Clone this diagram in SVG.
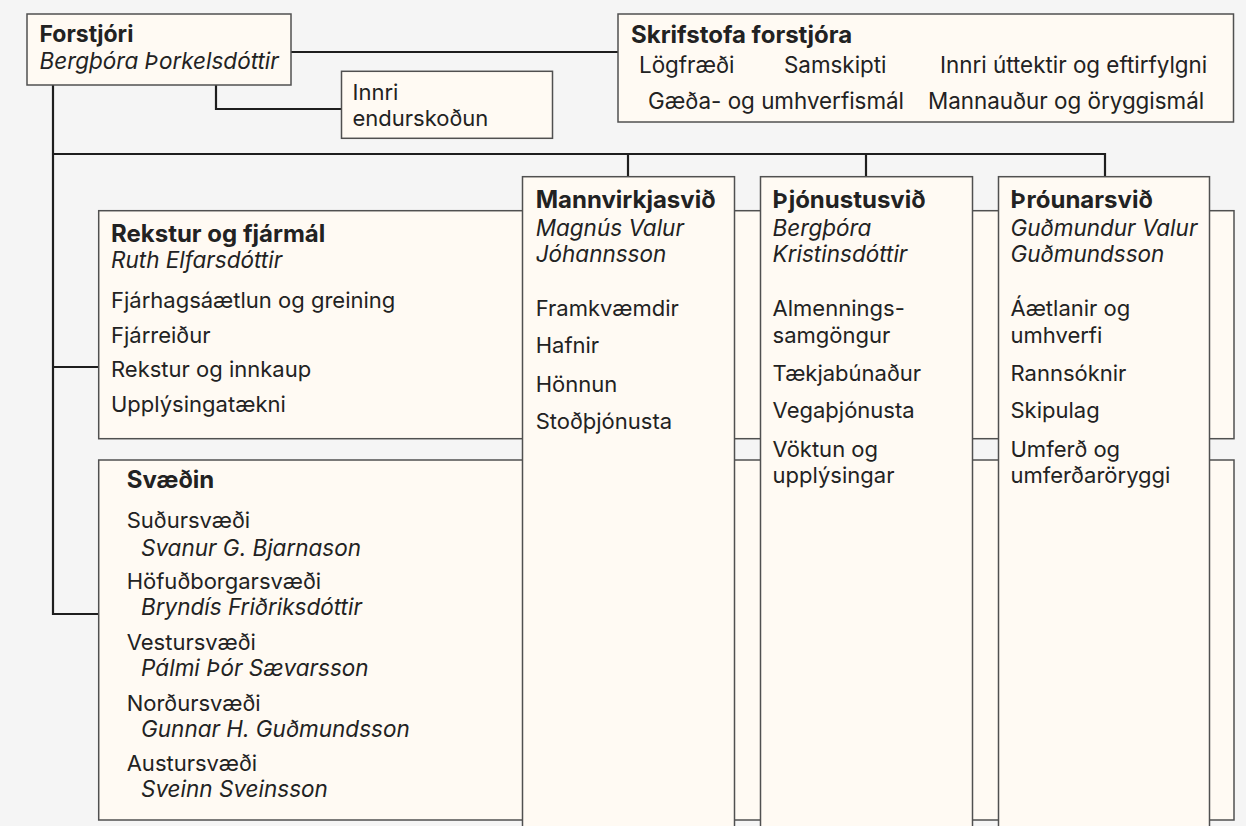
<svg xmlns="http://www.w3.org/2000/svg" width="1246" height="826" viewBox="0 0 1246 826">
<style>
.bg{fill:#f5f5f5}
.box{fill:#fffaf3;stroke:#505050;stroke-width:1.5}
.con{fill:none;stroke:#1e1e1e;stroke-width:2.2}
text{font-family:Inter,"Open Sans","Liberation Sans",sans-serif;fill:#222;font-size:22px}
.b{font-weight:700;font-size:24px}
.i{font-style:italic;font-size:22.5px}
.s{font-size:22.4px}
</style>
<rect class="bg" x="0" y="0" width="1246" height="826"/>
<g id="connectors">
<path class="con" d="M291,52 H618"/>
<path class="con" d="M216,85 V109 H342"/>
<path class="con" d="M53,85 V614 H99"/>
<path class="con" d="M53,367 H99"/>
<path class="con" d="M53,154 H1105 V177"/>
<path class="con" d="M628,154 V177"/>
<path class="con" d="M866,154 V177"/>
</g>
<g id="forstjori">
<rect class="box" x="27" y="14" width="264" height="71"/>
<text class="b" x="39.5" y="41.5" style="font-size:23px">Forstjóri</text>
<text class="i" x="39.5" y="69">Bergþóra Þorkelsdóttir</text>
</g>
<g id="skrifstofa">
<rect class="box" x="618" y="14" width="615.5" height="108"/>
<text class="b" x="631" y="42.7">Skrifstofa forstjóra</text>
<text class="s" x="639" y="73.3">Lögfræði</text>
<text class="s" x="784" y="73.3">Samskipti</text>
<text class="s" x="940" y="73.3">Innri úttektir og eftirfylgni</text>
<text class="s" x="648" y="109.3">Gæða- og umhverfismál</text>
<text class="s" x="928" y="109.3">Mannauður og öryggismál</text>
</g>
<g id="innri">
<rect class="box" x="341.5" y="71.3" width="211" height="67"/>
<text x="352.5" y="100">Innri</text>
<text x="352.5" y="126">endurskoðun</text>
</g>
<g id="rekstur">
<rect class="box" x="98.7" y="210.7" width="1135.3" height="228"/>
<text class="b" x="111" y="241.7">Rekstur og fjármál</text>
<text class="i" x="111" y="268.3">Ruth Elfarsdóttir</text>
<text x="111" y="308.3">Fjárhagsáætlun og greining</text>
<text x="111" y="342.7">Fjárreiður</text>
<text x="111" y="377.3">Rekstur og innkaup</text>
<text x="111" y="411.7">Upplýsingatækni</text>
</g>
<g id="svaedin">
<rect class="box" x="98.7" y="460" width="1135.3" height="360"/>
<text class="b" x="126.7" y="488.3">Svæðin</text>
<text x="126.7" y="528.3">Suðursvæði</text>
<text class="i" x="141" y="555.7">Svanur G. Bjarnason</text>
<text x="126.7" y="589">Höfuðborgarsvæði</text>
<text class="i" x="141" y="615">Bryndís Friðriksdóttir</text>
<text x="126.7" y="650">Vestursvæði</text>
<text class="i" x="141" y="676">Pálmi Þór Sævarsson</text>
<text x="126.7" y="710.7">Norðursvæði</text>
<text class="i" x="141" y="736.7">Gunnar H. Guðmundsson</text>
<text x="126.7" y="771">Austursvæði</text>
<text class="i" x="141" y="797.3">Sveinn Sveinsson</text>
</g>
<g id="mannvirkjasvid">
<rect class="box" x="522.5" y="176.7" width="212" height="670"/>
<text class="b" x="535.7" y="208.3">Mannvirkjasvið</text>
<text class="i" x="535.7" y="236">Magnús Valur</text>
<text class="i" x="535.7" y="261.7">Jóhannsson</text>
<text x="535.7" y="315.7">Framkvæmdir</text>
<text x="535.7" y="353.3">Hafnir</text>
<text x="535.7" y="391.7">Hönnun</text>
<text x="535.7" y="429.3">Stoðþjónusta</text>
</g>
<g id="thjonustusvid">
<rect class="box" x="760.5" y="176.7" width="212" height="670"/>
<text class="b" x="772.6" y="208.3">Þjónustusvið</text>
<text class="i" x="772.6" y="236">Bergþóra</text>
<text class="i" x="772.6" y="261.7">Kristinsdóttir</text>
<text x="772.6" y="315.7">Almennings-</text>
<text x="772.6" y="342.7">samgöngur</text>
<text x="772.6" y="380.7">Tækjabúnaður</text>
<text x="772.6" y="418.3">Vegaþjónusta</text>
<text x="772.6" y="456.7">Vöktun og</text>
<text x="772.6" y="482.7">upplýsingar</text>
</g>
<g id="throunarsvid">
<rect class="box" x="998.5" y="176.7" width="211" height="670"/>
<text class="b" x="1010.5" y="208.3">Þróunarsvið</text>
<text class="i" x="1010.5" y="236">Guðmundur Valur</text>
<text class="i" x="1010.5" y="261.7">Guðmundsson</text>
<text x="1010.5" y="315.7">Áætlanir og</text>
<text x="1010.5" y="342.7">umhverfi</text>
<text x="1010.5" y="380.7">Rannsóknir</text>
<text x="1010.5" y="418.3">Skipulag</text>
<text x="1010.5" y="456.7">Umferð og</text>
<text x="1010.5" y="482.7">umferðaröryggi</text>
</g>
</svg>
